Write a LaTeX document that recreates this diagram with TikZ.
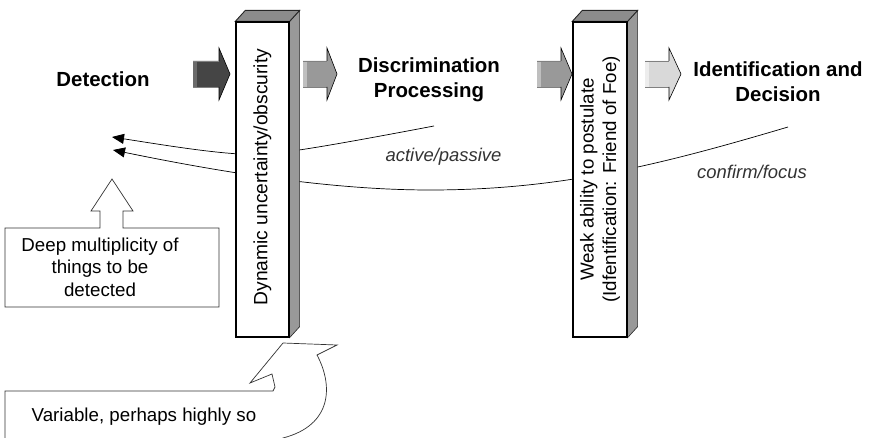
\documentclass[tikz,border=0pt]{standalone}
\usepackage{fontspec}
\setmainfont{Liberation Sans}
\usetikzlibrary{arrows.meta}

% block arrow: #1 start x, #2 head base x, #3 tip x, #4 fill, #5 left strip
\newcommand{\blockarrow}[5]{%
  \fill[#4] (#1,61) -- (#2,61) -- (#2,48) -- (#3,74) -- (#2,100) -- (#2,87) -- (#1,87) -- cycle;
  \fill[#5] (#1,61) rectangle ({#1+4},87);
  \draw[bodyedge] (#1,61) -- (#2,61) (#1,87) -- (#2,87);
  \draw[headedge] (#2,61) -- (#2,48) -- (#3,74) -- (#2,100) -- (#2,87);
}

\begin{document}
\begin{tikzpicture}[x=1bp,y=-1bp,
  heading/.style={font=\fontsize{20.5}{25.5}\selectfont\bfseries, align=center},
  bodytext/.style={font=\fontsize{18.8}{22.5}\selectfont, align=center},
  note/.style={font=\fontsize{18.5}{22.5}\selectfont\itshape, text=black!80},
  frontface/.style={draw=black, line width=1.3bp, fill=white, inner sep=0pt},
  sideface/.style={draw=black!85, line width=0.6bp, fill=black!40},
  topface/.style={draw=black!85, line width=0.9bp, fill=black!45},
  flow/.style={draw=black, line width=0.7bp, -{Triangle[length=12bp,width=10bp]}},
  outline/.style={draw=black!80, line width=0.7bp, fill=white},
  bodyedge/.style={draw=black!50, line width=0.4bp},
  headedge/.style={draw=black, line width=0.6bp, line join=miter}
]
\useasboundingbox (0,0) rectangle (870,438);
\clip (0,0) rectangle (870,438);

% feedback curves, partly hidden behind the two slabs
\coordinate (a0) at (434,126);
\coordinate (am) at (268,154);
\coordinate (a1) at (112,137);
\coordinate (b0) at (788,127);
\coordinate (bm) at (430,190);
\coordinate (b1) at (113,150);
\draw[flow] (a0) .. controls (360,140) and (300,151) .. (am)
                 .. controls (235,157) and (170,146) .. (a1);
\draw[flow] (b0) .. controls (660,165) and (560,190) .. (bm)
                 .. controls (330,190) and (220,172) .. (b1);

% slab 1
\node[frontface, minimum width=53bp, minimum height=315bp] (col1) at (262.5,179.5) {};
\draw[sideface] (col1.north east) -- ++(10,-11) -- ([shift={(10,-11)}]col1.south east) -- (col1.south east) -- cycle;
\draw[topface] (col1.north west) -- ++(10,-11) -- ([shift={(10,-11)}]col1.north east) -- (col1.north east) -- cycle;
\draw[frontface, fill=none] (col1.south west) rectangle (col1.north east);
\node[bodytext, rotate=90, font=\fontsize{19.3}{22.5}\selectfont] (col1text) at (262.5,177) {Dynamic uncertainty/obscurity};

% slab 2
\node[frontface, minimum width=54bp, minimum height=315bp] (col2) at (600,179.5) {};
\draw[sideface] (col2.north east) -- ++(10,-11) -- ([shift={(10,-11)}]col2.south east) -- (col2.south east) -- cycle;
\draw[topface] (col2.north west) -- ++(10,-11) -- ([shift={(10,-11)}]col2.north east) -- (col2.north east) -- cycle;
\draw[frontface, fill=none] (col2.south west) rectangle (col2.north east);
\node[bodytext, rotate=90] (col2text) at (col2) {Weak ability to postulate\\(Idfentification: Friend of Foe)};

% stage arrows
\blockarrow{193}{219}{230}{black!73}{black!58}
\blockarrow{303}{327}{337}{black!40}{black!25}
\blockarrow{537}{561}{572}{black!40}{black!25}
\blockarrow{645}{669}{681}{black!15}{black!7}

% stage titles
\node[heading, anchor=base] (detect) at (103,87) {Detection};
\node[heading] (discr) at (429,80) {Discrimination\\Processing};
\node[heading] (ident) at (778,81.5) {Identification and\\Decision};

% curve labels
\node[note, anchor=base] (ap) at (443.5,162) {active/passive};
\node[note, anchor=base] (cf) at (752,179) {confirm/focus};

% up-arrow callout
\draw[outline] (5,228) -- (100,228) -- (100,211) -- (91,211) -- (112,179) -- (133,211)
  -- (123,211) -- (123,228) -- (219,228) -- (219,307) -- (5,307) -- cycle;
\node[bodytext] (deep) at (100,267) {Deep multiplicity of\\things to be\\detected};

% curved callout at the foot of slab 1
\draw[outline] (5,445) -- (5,391) -- (273,391) -- (275,387) -- (272,374) -- (250,383)
  -- (283,343) -- (337,345) -- (317,355) .. controls (333,385) and (333,425) .. (283,438)
  -- (270,445) -- cycle;
\node[bodytext, anchor=base] (var) at (144,421) {Variable, perhaps highly so};
\end{tikzpicture}
\end{document}
